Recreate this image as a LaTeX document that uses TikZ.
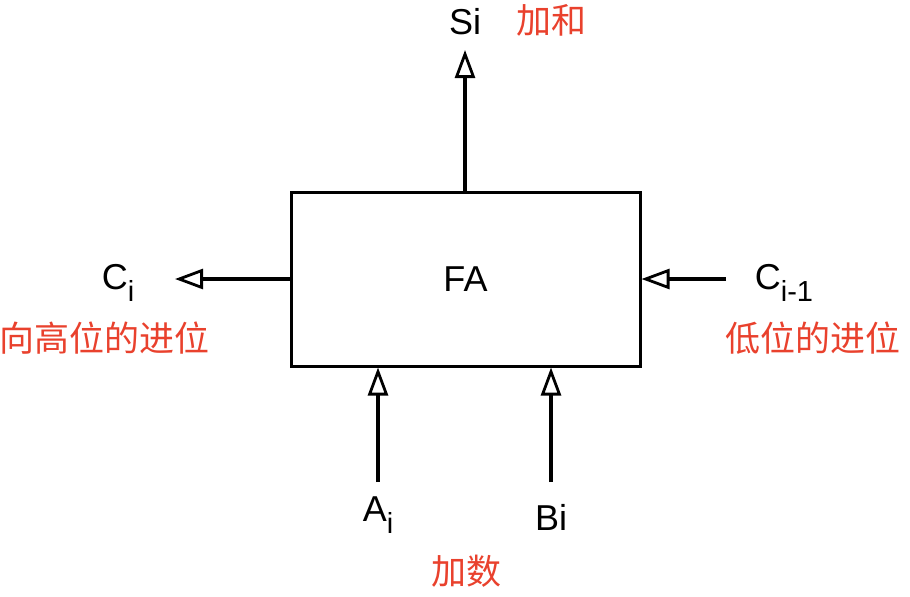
\documentclass[tikz,border=0pt]{standalone}
\usepackage{fontspec}
\setmainfont{Liberation Sans}
\newfontfamily\cjk{Noto Sans CJK SC}
\usepackage{xcolor}
\usepackage{tikz}
\usetikzlibrary{positioning,arrows.meta}
\definecolor{notered}{RGB}{233,65,45}
\newcommand{\lowidx}[1]{\raisebox{-0.6ex}{\fontsize{14.5}{15}\selectfont #1}}

\begin{document}
\begin{tikzpicture}[
  x=0.5pt, y=-0.5pt,
  fa/.style={draw, line width=1.5pt, minimum width=174.5pt, minimum height=87pt,
             inner sep=0pt, font=\fontsize{18}{20}\selectfont},
  sig/.style={font=\fontsize{18}{20}\selectfont, inner sep=0pt},
  note/.style={font=\cjk\fontsize{17.5}{19}\selectfont, text=notered, inner sep=0pt},
  arr/.style={-{Triangle[open, length=14pt, width=10pt, line width=1.4pt]}, line width=1.6pt}]
  \useasboundingbox (0,0) rectangle (910,596);
  \node[fa] (box) at (465.5,279) {FA};
  % free ends
  \coordinate (sout) at (465,50);
  \coordinate (cout) at (175,279);
  \coordinate (cin)  at (726,279);
  \coordinate (ain)  at (378,482);
  \coordinate (bin)  at (551,482);
  % labels
  \node[sig] (s)  at (465,22)  {Si};
  \node[note] (sn) at (551,20) {加和};
  \node[sig] (c)  at (118,283) {C\lowidx{i}};
  \node[note] (cn) at (104,338) {向高位的进位};
  \node[sig] (cp) at (784,283) {C\lowidx{i-1}};
  \node[note] (cpn) at (813,338) {低位的进位};
  \node[sig] (a)  at (378,515) {A\lowidx{i}};
  \node[sig] (b)  at (551,517) {Bi};
  \node[note] (an) at (466,571) {加数};
  \draw[arr] (box.north -| sout) -- (sout);
  \draw[arr] (box.west) -- (cout);
  \draw[arr] (cin) -- (box.east);
  \draw[arr] (ain) -- (ain |- box.south);
  \draw[arr] (bin) -- (bin |- box.south);
\end{tikzpicture}
\end{document}
